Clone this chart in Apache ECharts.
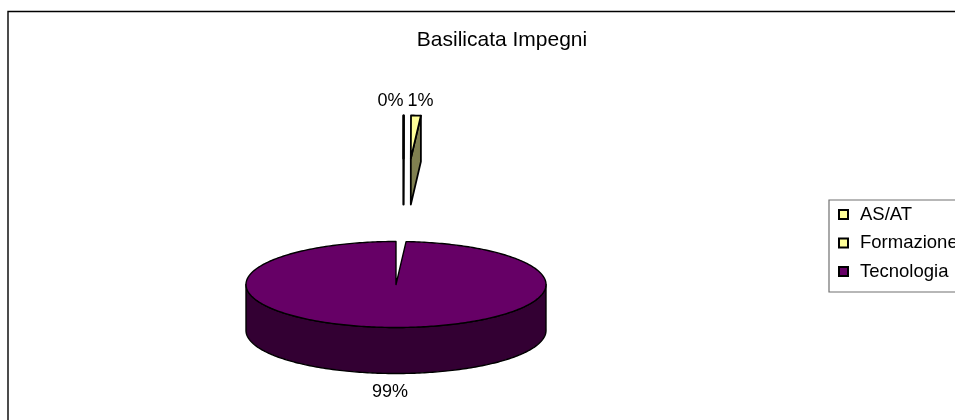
<!DOCTYPE html>
<html>
<head>
<meta charset="utf-8">
<style>
  html, body { margin: 0; padding: 0; background: #fff; }
  #chart { width: 955px; height: 420px; }
</style>
<script src="https://cdn.jsdelivr.net/npm/echarts@6/dist/echarts.min.js"></script>
</head>
<body>
<div id="chart"></div>
<script>
const categories = ['AS/AT', 'Formazione', 'Tecnologia'];
const values = [0.02, 1.05, 98.93];
const topColors = ['#FFFF99', '#FFFF99', '#660066'];
const sideColors = ['#808050', '#808050', '#330033'];

// geometria della torta "3D"
const CX = 396, CY = 284.5, RX = 150, RY = 43, DEPTH = 46;
const FONT = '"Liberation Sans", Arial, sans-serif';
// spostamento delle fette esplose
const explode = [[7.5, -126], [15, -126], [0, 0]];
const labelPos = [[390.5, 101], [420.5, 101], [390, 392]];
const strokeWidth = [2.2, 1.8, 1.4];

const total = values.reduce((s, v) => s + v, 0);

function arcPoints(cx, cy, a0, a1) {
  const pts = [];
  const n = Math.max(2, Math.ceil(Math.abs(a1 - a0)));
  for (let i = 0; i <= n; i++) {
    const t = (a0 + (a1 - a0) * i / n) * Math.PI / 180;
    pts.push([cx + RX * Math.sin(t), cy - RY * Math.cos(t)]);
  }
  return pts;
}

function renderSlice(idx) {
  return function (params, api) {
    let start = 0;
    for (let i = 0; i < idx; i++) start += values[i];
    const a0 = start / total * 360;
    const a1 = a0 + api.value(0) / total * 360;
    const cx = CX + explode[idx][0] - (idx === 1 ? RX * Math.sin(a0 * Math.PI / 180) : 0);
    const cy = CY + explode[idx][1];
    const line = { stroke: '#000', lineWidth: strokeWidth[idx], lineJoin: 'round' };
    const children = [];

    if (idx === 2) {
      // fianco anteriore
      const front = arcPoints(cx, cy, 90, 270);
      const back = front.map(p => [p[0], p[1] + DEPTH]).reverse();
      children.push({
        type: 'polygon',
        shape: { points: front.concat(back) },
        style: Object.assign({ fill: sideColors[idx] }, line)
      });
    } else {
      // faccia di taglio della fetta esplosa
      const e = arcPoints(cx, cy, a1, a1)[0];
      children.push({
        type: 'polygon',
        shape: { points: [[cx, cy], e, [e[0], e[1] + DEPTH], [cx, cy + DEPTH]] },
        style: Object.assign({ fill: sideColors[idx] }, line)
      });
    }

    children.push({
      type: 'polygon',
      shape: { points: [[cx, cy]].concat(arcPoints(cx, cy, a0, a1)) },
      style: Object.assign({ fill: topColors[idx] }, line)
    });

    children.push({
      type: 'text',
      style: {
        text: Math.round(api.value(0) / total * 100) + '%',
        x: labelPos[idx][0], y: labelPos[idx][1],
        align: 'center', verticalAlign: 'middle',
        fill: '#000', font: '18px ' + FONT
      }
    });
    return { type: 'group', children };
  };
}

const chart = echarts.init(document.getElementById('chart'), null, { renderer: 'canvas' });
chart.setOption({
  animation: false,
  backgroundColor: '#fff',
  title: {
    text: 'Basilicata Impegni',
    left: 502, top: 30, textAlign: 'center', padding: 0,
    textStyle: { fontFamily: FONT, fontSize: 21, fontWeight: 'normal', color: '#000' }
  },
  legend: {
    orient: 'vertical',
    left: 829, top: 200,
    data: categories,
    icon: 'rect',
    itemWidth: 9, itemHeight: 9, itemGap: 9.5,
    padding: [5, 40, 11, 9],
    borderColor: '#707070', borderWidth: 1.2,
    selectedMode: false,
    itemStyle: { borderColor: '#000', borderWidth: 2 },
    textStyle: { fontFamily: FONT, fontSize: 18.5, color: '#000', padding: [0, 0, 0, 7] }
  },
  graphic: [{
    type: 'rect', z: -1, silent: true,
    shape: { x: 8, y: 11.5, width: 1000, height: 500 },
    style: { fill: 'none', stroke: '#000', lineWidth: 1.4 }
  }],
  series: categories.map((name, i) => ({
    type: 'custom',
    name,
    coordinateSystem: 'none',
    silent: true,
    itemStyle: { color: topColors[i] },
    data: [[values[i]]],
    renderItem: renderSlice(i)
  }))
});
</script>
</body>
</html>
